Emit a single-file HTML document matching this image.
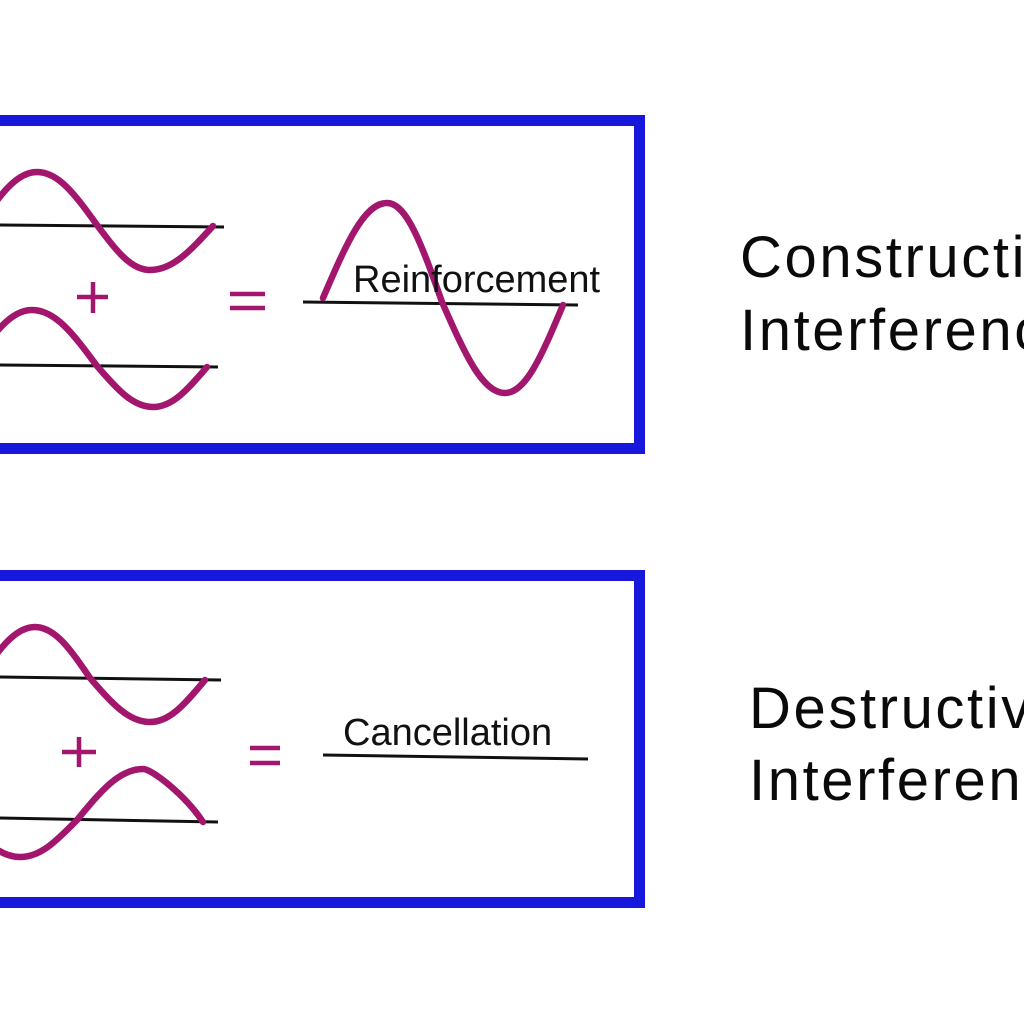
<!DOCTYPE html>
<html>
<head>
<meta charset="utf-8">
<style>
  html, body { margin:0; padding:0; background:#ffffff; }
  body { width:1024px; height:1024px; overflow:hidden; }
  svg { display:block; }
  .w { fill:none; stroke:#a3166d; stroke-width:6.5; stroke-linecap:round; stroke-linejoin:round; }
  .ax { stroke:#111; stroke-width:3; }
  .op { stroke:#a3166d; stroke-width:4.5; }
  .lbl { font-family:"Liberation Sans", sans-serif; font-size:38px; fill:#111; }
  .big { font-family:"Liberation Sans", sans-serif; font-size:58px; fill:#0a0a0a; letter-spacing:2.6px; }
</style>
</head>
<body>
<svg width="1024" height="1024" viewBox="0 0 1024 1024" xmlns="http://www.w3.org/2000/svg">
  <rect x="0" y="0" width="1024" height="1024" fill="#ffffff"/>

  <!-- ===== Top box ===== -->
  <rect x="-14.5" y="120.5" width="654" height="328" fill="none" stroke="#1818dc" stroke-width="11"/>

  <!-- wave 1 -->
  <line class="ax" x1="0" y1="225" x2="224" y2="227"/>
  <path class="w" d="M -20,224 C 0.7,194.3 16.5,172 37,172 C 58.6,172 75.2,194.7 97,225 C 116.3,250.7 130.9,270 150,270 C 172.7,270 190,251.2 213,226"/>

  <!-- plus -->
  <line class="op" x1="77" y1="297" x2="108" y2="297"/>
  <line class="op" x1="93" y1="282" x2="93" y2="313"/>

  <!-- wave 2 -->
  <line class="ax" x1="0" y1="365" x2="218" y2="367"/>
  <path class="w" d="M -28,365 C -6.2,333.5 10.4,310 32,310 C 55.4,310 73.3,334 97,366 C 117.4,389.5 132.8,407 153,407 C 172.4,407 187.3,389.9 207,367"/>

  <!-- equals -->
  <line class="op" x1="230" y1="294" x2="265" y2="294"/>
  <line class="op" x1="230" y1="308" x2="265" y2="308"/>

  <!-- reinforcement wave -->
  <line class="ax" x1="303" y1="302" x2="578" y2="305"/>
  <path class="w" d="M 323,298 C 346.3,243.7 364,203 387,203 C 406.8,203 422,245.4 442,302 C 464.9,354 482.3,393 505,393 C 525.9,393 541.9,355.3 563,305"/>
  <text class="lbl" x="353" y="292">Reinforcement</text>

  <!-- ===== Bottom box ===== -->
  <rect x="-14.5" y="575.5" width="654" height="327" fill="none" stroke="#1818dc" stroke-width="11"/>

  <!-- wave 1 -->
  <line class="ax" x1="0" y1="677" x2="221" y2="680"/>
  <path class="w" d="M -20,677 C 0,648.4 15.2,627 35,627 C 54.8,627 70,648.8 90,678 C 111.8,703.2 128.4,722 150,722 C 169.8,722 185,704 205,680"/>

  <!-- plus -->
  <line class="op" x1="62" y1="752" x2="96" y2="752"/>
  <line class="op" x1="79" y1="737" x2="79" y2="767"/>

  <!-- wave 2 (inverted) -->
  <line class="ax" x1="0" y1="818" x2="218" y2="822"/>
  <path class="w" d="M -37,818 C -16.3,840.3 -0.5,857 20,857 C 40.5,857 56.3,841.2 77,820 C 101,790.8 119.2,769 143,769 C 152,769 185,795 203,822"/>

  <!-- equals -->
  <line class="op" x1="250" y1="748" x2="280" y2="748"/>
  <line class="op" x1="250" y1="763" x2="280" y2="763"/>

  <!-- cancellation -->
  <line class="ax" x1="323" y1="755" x2="588" y2="759"/>
  <text class="lbl" x="343" y="745">Cancellation</text>

  <!-- ===== Right-side titles ===== -->
  <text class="big" x="740" y="277">Constructive</text>
  <text class="big" x="740" y="350">Interference</text>
  <text class="big" x="749" y="728">Destructive</text>
  <text class="big" x="749" y="800">Interference</text>
</svg>
</body>
</html>
